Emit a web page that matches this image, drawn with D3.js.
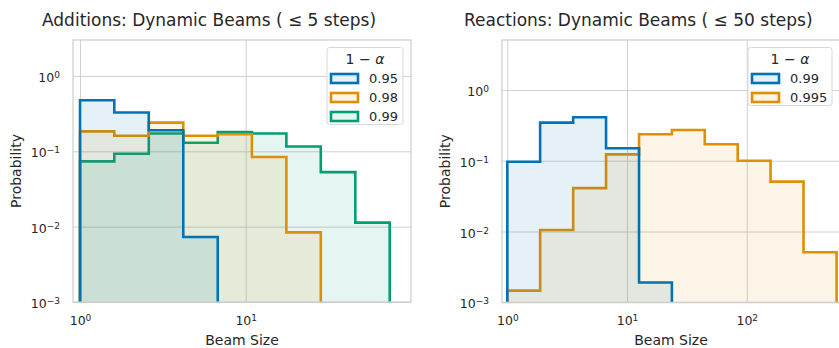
<!DOCTYPE html>
<html>
<head>
<meta charset="utf-8">
<script src="https://cdn.jsdelivr.net/npm/d3@7"></script>
<style>
  body { margin: 0; background: #fff; }
  svg { font-family: "DejaVu Sans", sans-serif; }
  text { fill: #262626; }
</style>
</head>
<body>
<div id="chart"></div>
<script>
// bin edges (beam size) and probabilities per bin
var addEdges = [1, 1.61, 2.6, 4.2, 6.78, 10.9, 17.6, 28.4, 45.9, 74];
var add95 = [0.475, 0.327, 0.19, 0.0073];
var add98 = [0.184, 0.161, 0.24, 0.161, 0.168, 0.084, 0.0084];
var add99 = [0.0736, 0.093, 0.172, 0.130, 0.18, 0.172, 0.116, 0.053, 0.0113];

var rxnEdges = [1, 1.88, 3.55, 6.68, 12.6, 23.7, 44.6, 84, 158, 298, 563];
var rxn99 = [0.097, 0.346, 0.411, 0.15, 0.0019];
var rxn995 = [0.00146, 0.0105, 0.041, 0.123, 0.237, 0.272, 0.171, 0.10, 0.0507, 0.0051];

var xTicksAdd = [1, 10];
var xTicksRxn = [1, 10, 100];
var yTicks = [1, 0.1, 0.01, 0.001];

var colors = { blue: "#0173B2", orange: "#DE8F05", green: "#029E73" };

var svg = d3.select("#chart").append("svg")
    .attr("width", 839)
    .attr("height", 348);

function expLabel(sel, v) {
    var e = Math.round(Math.log10(v));
    sel.text(null);
    sel.append("tspan").text("10");
    sel.append("tspan")
        .attr("dy", "-0.45em")
        .style("font-size", "9px")
        .text(e < 0 ? "\u2212" + (-e) : String(e));
}

function panel(opts) {
    var w = opts.x1 - opts.x0, h = opts.y1 - opts.y0;
    var g = svg.append("g").attr("transform", "translate(" + opts.x0 + "," + opts.y0 + ")");
    var x = d3.scaleLog().domain(opts.xDomain).range([0, w]);
    var y = d3.scaleLog().domain(opts.yDomain).range([h, 0]);

    g.append("defs").append("clipPath").attr("id", opts.id)
        .append("rect").attr("width", w).attr("height", h);

    // grid
    g.append("g").attr("class", "gx").attr("transform", "translate(0," + h + ")")
        .call(d3.axisBottom(x).tickValues(opts.xTicks).tickSize(-h).tickFormat(""));
    g.append("g").attr("class", "gy")
        .call(d3.axisLeft(y).tickValues(yTicks).tickSize(-w).tickFormat(""));
    g.selectAll(".gx .domain, .gy .domain").remove();
    g.selectAll(".gx line, .gy line").attr("stroke", "#d0d0d0").attr("stroke-width", 1);

    // histograms
    var plot = g.append("g").attr("clip-path", "url(#" + opts.id + ")");
    opts.series.slice().reverse().forEach(function (s) {
        var pts = [[x(s.edges[0]), h + 5]];
        s.values.forEach(function (v, i) {
            pts.push([x(s.edges[i]), y(v)]);
            pts.push([x(s.edges[i + 1]), y(v)]);
        });
        pts.push([x(s.edges[s.values.length]), h + 5]);
        var line = d3.line();
        plot.append("path").attr("d", line(pts) + "Z")
            .attr("fill", s.color).attr("fill-opacity", 0.1).attr("stroke", "none");
        plot.append("path").attr("d", line(pts))
            .attr("fill", "none").attr("stroke", s.color).attr("stroke-width", 2.6);
    });

    // frame
    g.append("rect").attr("width", w).attr("height", h)
        .attr("fill", "none").attr("stroke", "#cccccc").attr("stroke-width", 1.2);

    // tick labels
    var ax = g.append("g").attr("transform", "translate(0," + h + ")")
        .call(d3.axisBottom(x).tickValues(opts.xTicks).tickSize(0).tickPadding(0));
    ax.select(".domain").remove();
    ax.selectAll("text").attr("y", 23).attr("dy", null)
        .style("font-size", "12.5px").style("font-family", "DejaVu Sans")
        .each(function (d) { expLabel(d3.select(this), d); });

    var ay = g.append("g")
        .call(d3.axisLeft(y).tickValues(yTicks).tickSize(0).tickPadding(0));
    ay.select(".domain").remove();
    ay.selectAll("text").attr("x", -13).attr("dy", "0.45em")
        .style("font-size", "12.5px").style("font-family", "DejaVu Sans")
        .each(function (d) { expLabel(d3.select(this), d); });

    // axis labels
    svg.append("text").attr("x", (opts.x0 + opts.x1) / 2).attr("y", 345)
        .attr("text-anchor", "middle").style("font-size", "14px").text("Beam Size");
    svg.append("text")
        .attr("transform", "translate(" + opts.ylabX + "," + (opts.y0 + h / 2) + ") rotate(-90)")
        .attr("text-anchor", "middle").style("font-size", "14px").text("Probability");

    // title
    var t = svg.append("text").attr("x", opts.titleX).attr("y", 26)
        .style("font-size", "17px");
    t.append("tspan").text(opts.title[0]);
    t.append("tspan").text(opts.title[1]);

    // legend
    var lg = svg.append("g").attr("transform", "translate(" + opts.legX + "," + 47.5 + ")");
    lg.append("rect").attr("width", opts.legW).attr("height", 15 + opts.series.length * 19 + 5)
        .attr("rx", 2.5).attr("fill", "#fff").attr("fill-opacity", 0.85)
        .attr("stroke", "#d8d8d8").attr("stroke-width", 1);
    var lt = lg.append("text").attr("x", opts.legW / 2).attr("y", 16)
        .attr("text-anchor", "middle").style("font-size", "14px");
    lt.append("tspan").text("1 \u2212 ");
    lt.append("tspan").style("font-style", "italic").text("\u03b1");
    opts.series.forEach(function (s, i) {
        var yy = 31 + i * 19;
        lg.append("rect").attr("x", 4).attr("y", yy - 4.5).attr("width", 27).attr("height", 9)
            .attr("fill", s.color).attr("fill-opacity", 0.1)
            .attr("stroke", s.color).attr("stroke-width", 2.6);
        lg.append("text").attr("x", 42).attr("y", yy + 4.5)
            .style("font-size", "13px").text(s.label);
    });
}

panel({
    id: "clipA", x0: 73, x1: 411, y0: 40, y1: 302,
    xDomain: [0.907, 99.5], yDomain: [0.001, 3.0],
    xTicks: xTicksAdd, ylabX: 21, titleX: 42, legX: 327, legW: 76,
    title: ["Additions: Dynamic Beams ( ", "\u2264 5 steps)"],
    series: [
        { label: "0.95", color: colors.blue, edges: addEdges, values: add95 },
        { label: "0.98", color: colors.orange, edges: addEdges, values: add98 },
        { label: "0.99", color: colors.green, edges: addEdges, values: add99 }
    ]
});

panel({
    id: "clipR", x0: 502, x1: 840, y0: 40, y1: 302.3,
    xDomain: [0.903, 601], yDomain: [0.001, 5.08],
    xTicks: xTicksRxn, ylabX: 450, titleX: 464, legX: 748, legW: 84,
    title: ["Reactions: Dynamic Beams ( ", "\u2264 50 steps)"],
    series: [
        { label: "0.99", color: colors.blue, edges: rxnEdges, values: rxn99 },
        { label: "0.995", color: colors.orange, edges: rxnEdges, values: rxn995 }
    ]
});
</script>
</body>
</html>
